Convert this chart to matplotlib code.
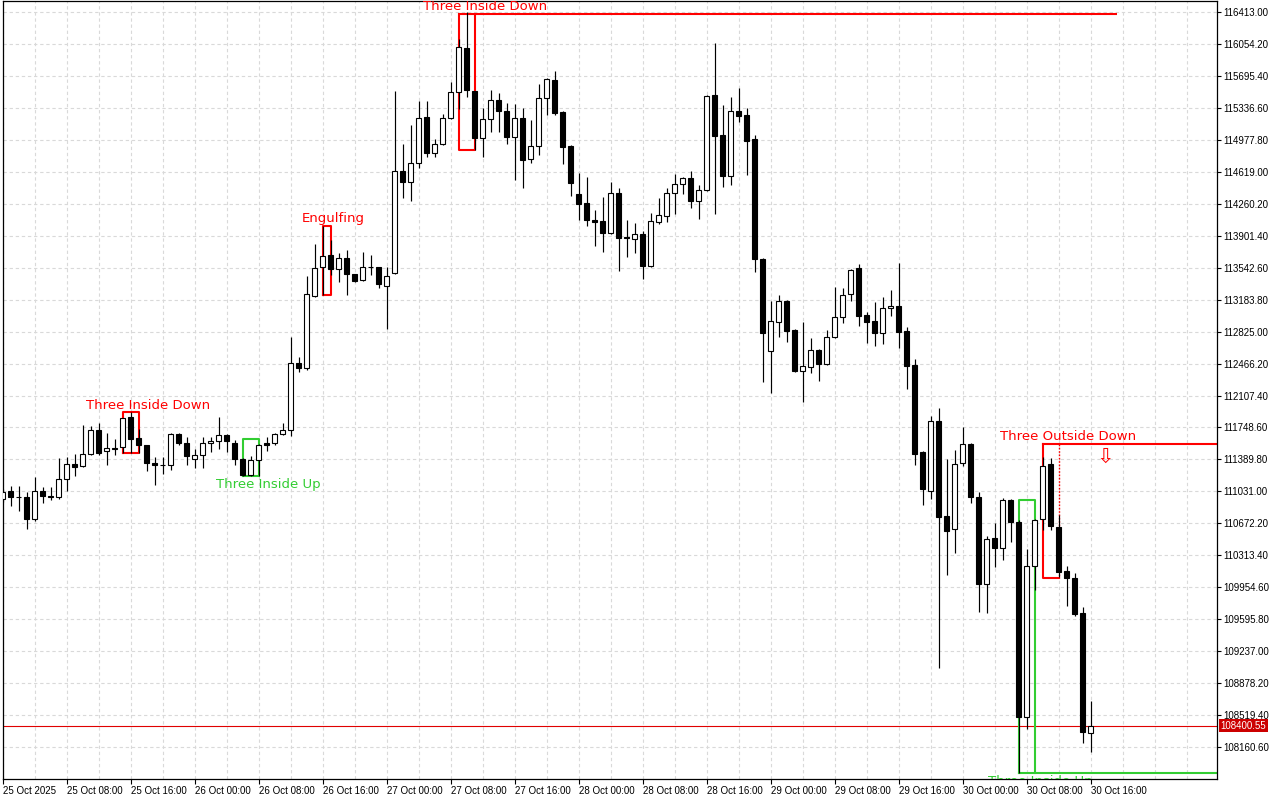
import matplotlib
matplotlib.use("Agg")
import matplotlib.pyplot as plt
import matplotlib.transforms as mtransforms

# ---------------- data (hourly candles from 25 Oct 2025 00:00) ----------------
opens = [110946, 111036, 110968, 110965, 110718, 111036, 110976, 110965, 111167, 111335,
         111313, 111451, 111720, 111481, 111518, 111526, 111863, 111627, 111549, 111347,
         111327, 111324, 111676, 111571, 111391, 111436, 111571, 111593, 111664, 111571,
         111398, 111212, 111384, 111578, 111571, 111676, 111720, 112473, 112417, 113225,
         113547, 113685, 113525, 113648, 113468, 113404, 113554, 113547, 113337, 113480,
         114632, 114501, 114715, 115231, 114834, 114928, 115220, 115512, 116006, 115526,
         114995, 115212, 115425, 115302, 115013, 115220, 114760, 114912, 115444, 115650,
         115294, 114909, 114370, 114266, 114078, 114067, 113929, 114378, 113887, 113861,
         113921, 113565, 114059, 114126, 114378, 114479, 114553, 114288, 114415, 115481,
         115032, 114575, 115302, 115257, 114987, 113640, 112611, 112936, 113169, 112843,
         112380, 112431, 112618, 112458, 112761, 112986, 113244, 113536, 113012, 112944,
         112813, 113087, 113113, 112832, 112450, 111477, 111039, 111821, 110755, 110606,
         111347, 111563, 110965, 109988, 110504, 110399, 110935, 110691, 108502, 110197,
         110718, 111335, 110628, 110137, 110055, 109662, 108315]
highs = [111058, 111092, 111092, 111021, 111189, 111084, 111084, 111403, 111414, 111451,
         111780, 111762, 111799, 111690, 111623, 111860, 111926, 111728, 111552, 111421,
         111414, 111690, 111690, 111638, 111504, 111638, 111638, 111870, 111670, 111608,
         111403, 111429, 111560, 111638, 111690, 111802, 112765, 112540, 113449, 113812,
         114014, 113854, 113711, 113741, 113475, 113719, 113682, 113552, 113554, 115526,
         114931, 115145, 115414, 115414, 114984, 115268, 115631, 116107, 116413, 115530,
         115332, 115538, 115507, 115395, 115380, 115332, 115201, 115605, 115669, 115754,
         115300, 114915, 114609, 114564, 114190, 114340, 114505, 114441, 114078, 114048,
         113955, 114153, 114328, 114441, 114595, 114564, 114628, 114471, 115481, 116062,
         115369, 115462, 115557, 115332, 115032, 113648, 113169, 113236, 113175, 112850,
         112936, 112750, 112625, 112843, 113329, 113311, 113525, 113584, 113049, 113161,
         113210, 113292, 113599, 112880, 112521, 111488, 111881, 111971, 111391, 111496,
         111757, 111570, 111021, 110530, 110673, 110954, 110946, 110710, 110384, 110720,
         111421, 111403, 110766, 110197, 110112, 109737, 108678]
lows = [110912, 110870, 110814, 110612, 110695, 110898, 110931, 110950, 111032, 111207,
        111300, 111436, 111436, 111324, 111436, 111459, 111466, 111459, 111264, 111100,
        111226, 111271, 111555, 111324, 111290, 111290, 111473, 111504, 111473, 111324,
        111200, 111204, 111204, 111481, 111549, 111668, 111653, 112372, 112394, 113215,
        113233, 113461, 113385, 113233, 113385, 113395, 113461, 113318, 112851, 113475,
        114322, 114295, 114658, 114782, 114782, 114920, 115212, 115321, 115462, 114864,
        114782, 115069, 115069, 114931, 114527, 114434, 114721, 114808, 115257, 115257,
        114707, 114348, 114078, 114011, 113786, 113719, 113920, 113509, 113666, 113711,
        113416, 113555, 114033, 114059, 114142, 114367, 114216, 114086, 114407, 114142,
        114452, 114471, 115182, 114583, 113498, 112263, 112139, 112768, 112712, 112370,
        112038, 112357, 112274, 112450, 112750, 112918, 113172, 112891, 112701, 112664,
        112686, 113000, 112644, 112181, 111327, 110878, 110942, 109045, 110092, 110343,
        111316, 110904, 109680, 109669, 110186, 110261, 110466, 107873, 108360, 109924,
        110598, 110598, 110073, 109744, 109632, 108210, 108109]
closes = [111024, 110965, 110963, 110718, 111032, 110976, 110965, 111167, 111335, 111308,
          111451, 111720, 111466, 111515, 111512, 111855, 111623, 111549, 111347, 111324,
          111322, 111676, 111571, 111425, 111436, 111571, 111593, 111664, 111593, 111398,
          111210, 111384, 111555, 111555, 111676, 111720, 112473, 112417, 113244, 113536,
          113670, 113525, 113648, 113468, 113397, 113547, 113545, 113356, 113453, 114632,
          114501, 114715, 115220, 114834, 114928, 115220, 115512, 116017, 115538, 114995,
          115212, 115425, 115305, 115013, 115220, 114752, 114912, 115444, 115658, 115283,
          114901, 114497, 114261, 114078, 114056, 113929, 114378, 113879, 113876, 113917,
          113565, 114067, 114134, 114378, 114479, 114553, 114295, 114415, 115475, 115024,
          114575, 115302, 115249, 114968, 113640, 112806, 112944, 113169, 112835, 112380,
          112439, 112618, 112458, 112768, 112992, 113236, 113517, 113004, 112936, 112813,
          113087, 113113, 112824, 112442, 111451, 111058, 111821, 110747, 110590, 111335,
          111563, 110972, 109988, 110493, 110399, 110935, 110691, 108502, 110197, 110710,
          111316, 110646, 110130, 110055, 109651, 108333, 108400.55]

current_price = 108400.55

x_tick_labels = ["25 Oct 2025", "25 Oct 08:00", "25 Oct 16:00", "26 Oct 00:00", "26 Oct 08:00",
                 "26 Oct 16:00", "27 Oct 00:00", "27 Oct 08:00", "27 Oct 16:00", "28 Oct 00:00",
                 "28 Oct 08:00", "28 Oct 16:00", "29 Oct 00:00", "29 Oct 08:00", "29 Oct 16:00",
                 "30 Oct 00:00", "30 Oct 08:00", "30 Oct 16:00"]
hours_per_label = 8

y_tick_values = [116413.00, 116054.20, 115695.40, 115336.60, 114977.80, 114619.00, 114260.20,
                 113901.40, 113542.60, 113183.80, 112825.00, 112466.20, 112107.40, 111748.60,
                 111389.80, 111031.00, 110672.20, 110313.40, 109954.60, 109595.80, 109237.00,
                 108878.20, 108519.40, 108160.60]

# candlestick patterns: (label, first bar, last bar, top price, bottom price, kind)
pattern_names = ["Three Inside Down", "Three Inside Up", "Engulfing", "Three Inside Down",
                 "Three Outside Down", "Three Inside Up"]
pattern_first = [15, 30, 40, 57, 130, 127]
pattern_last = [17, 32, 41, 59, 132, 129]
pattern_top = [111919, 111616, 114014, 116391, 111563, 110935]
pattern_bottom = [111459, 111204, 113233, 114864, 110062, 107873]
pattern_bearish = [True, False, True, True, True, False]
# label anchor (bar index, price)
label_x = [18.2, 33.2, 41.3, 60.3, 133.2, 129.7]
label_y = [112001, 111114, 114100, 116480, 111653, 107847]
signal_arrow = (137.8, 111417)
top_line_end = 139.3

RED = "#ff0000"
GREEN = "#32cd32"

# ---------------- figure ----------------
W, H = 1280, 800
fig = plt.figure(figsize=(W / 100, H / 100), dpi=100)
fig.patch.set_facecolor("white")
left_px, right_px, top_px, bottom_px = 2.5, 1217, 1, 779
ax = fig.add_axes([left_px / W, (H - bottom_px) / H, (right_px - left_px) / W, (bottom_px - top_px) / H])

n = len(opens)
idx = list(range(n))
xmax = (right_px - left_px) / 8 - 0.02
ax.set_xlim(-0.02, xmax)
ax.set_ylim(107802, 116537)

# grid
for yv in y_tick_values:
    ax.axhline(yv, color="#d9d9d9", lw=0.8, dashes=(3, 2.5), zorder=0)
for xv in range(0, int(xmax) + 1, 4):
    ax.axvline(xv, color="#d9d9d9", lw=0.8, dashes=(3, 2.5), zorder=0)

# current price line
ax.axhline(current_price, color="#e00000", lw=0.8, zorder=1)

# pattern boxes
for k in range(len(pattern_names)):
    col = RED if pattern_bearish[k] else GREEN
    x0, x1 = pattern_first[k], pattern_last[k]
    t, b = pattern_top[k], pattern_bottom[k]
    lw = 1.5
    name = pattern_names[k]
    if k == 3:  # open-ended top line
        ax.plot([x0, top_line_end], [t, t], color=col, lw=lw, zorder=1.5, solid_capstyle="butt")
        ax.plot([x0, x0, x1, x1], [t, b, b, t], color=col, lw=lw, zorder=1.5)
    elif k == 4:
        ax.plot([x0, xmax + 1], [t, t], color=col, lw=lw, zorder=1.5, clip_on=True)
        ax.plot([x0, x0, x1], [t, b, b], color=col, lw=lw, zorder=1.5)
        ax.plot([x1, x1], [t, b], color=col, lw=1.0, ls=(0, (1.2, 1.2)), zorder=1.5)
    elif k == 5:
        ax.plot([x0, xmax + 1], [b, b], color=col, lw=lw, zorder=1.5)
        ax.plot([x0, x0, x1, x1], [b, t, t, b], color=col, lw=lw, zorder=1.5)
    else:
        ax.plot([x0, x0, x1, x1, x0], [b, t, t, b, b], color=col, lw=lw, zorder=1.5)
    va = "top" if k == 5 else "center"
    ax.text(label_x[k], label_y[k], name, color=col, fontsize=9.5, family="DejaVu Sans",
            ha="center", va=va, zorder=5, clip_on=True)

ax.text(signal_arrow[0], signal_arrow[1], "\u21e9", color=RED, fontsize=15,
        family="DejaVu Sans", ha="center", va="center", zorder=5)

# candles
ax.vlines(idx, lows, highs, color="black", lw=0.85, zorder=3)
bottoms = [min(o, c) for o, c in zip(opens, closes)]
heights = [max(abs(c - o), 6) for o, c in zip(opens, closes)]
faces = ["white" if c > o else "black" for o, c in zip(opens, closes)]
ax.bar(idx, heights, bottom=bottoms, width=0.56, color=faces, edgecolor="black",
       linewidth=0.8, zorder=4)

# axes styling
for s in ax.spines.values():
    s.set_color("black")
    s.set_linewidth(0.9)

ax.yaxis.tick_right()
ax.set_yticks(y_tick_values)
ax.set_yticklabels([f"{v:.2f}" for v in y_tick_values], family="Liberation Sans", fontsize=7)
ax.tick_params(axis="y", direction="out", length=3, width=0.8, pad=1.5, colors="black")

ax.set_xticks([i * hours_per_label for i in range(len(x_tick_labels))])
ax.set_xticklabels(x_tick_labels, family="Liberation Sans", fontsize=7)
for lbl in ax.get_xticklabels():
    lbl.set_ha("left")
ax.tick_params(axis="x", direction="out", length=3.5, width=0.8, pad=1.5, colors="black")

# current price tag on the axis
trans = mtransforms.blended_transform_factory(ax.transAxes, ax.transData)
ax.text(1.0 + 3.5 / (right_px - left_px), current_price, f"{current_price:.2f}", transform=trans,
        color="white", fontsize=7, family="Liberation Sans", ha="left", va="center",
        bbox=dict(boxstyle="square,pad=0.18", fc="#cc0000", ec="none"), clip_on=False, zorder=6)

fig.savefig("out.png", dpi=100, facecolor="white")
